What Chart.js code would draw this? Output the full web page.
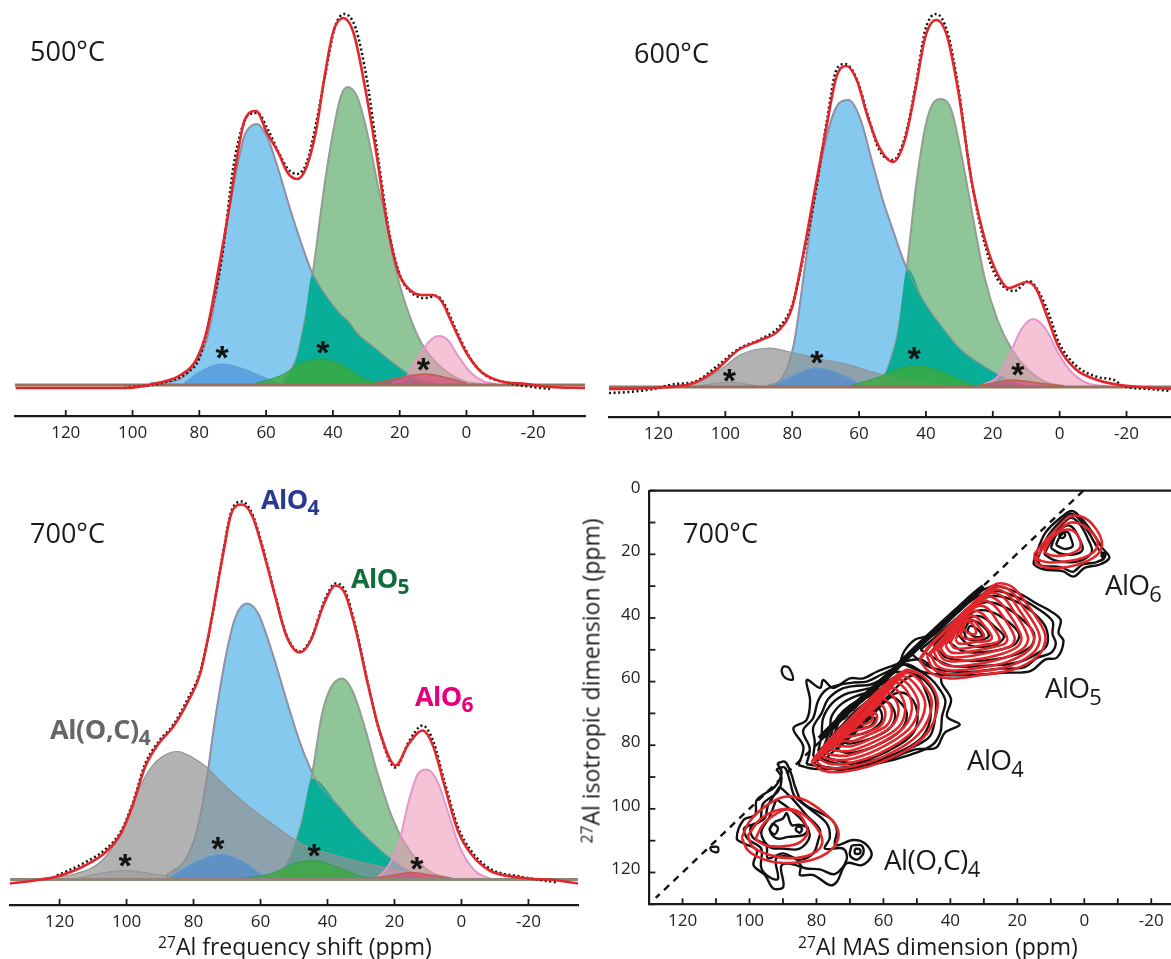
<!DOCTYPE html>
<html><head><meta charset="utf-8">
<script src="https://cdn.jsdelivr.net/npm/chart.js@4"></script>
<style>
html,body{margin:0;padding:0;background:#fff}
#wrap{position:relative;width:1171px;height:959px;overflow:hidden;background:#fff;font-family:"Open Sans",sans-serif;color:#1a1a1a}
canvas{position:absolute}
.t{position:absolute;white-space:nowrap;line-height:1}
.t sub{font-size:.78em;vertical-align:baseline;position:relative;top:.3em}
.t sup{font-size:.68em;vertical-align:baseline;position:relative;top:-.42em}
.b{font-weight:700}
</style></head><body><div id="wrap">
<canvas id="c500"></canvas><canvas id="c600"></canvas><canvas id="c700"></canvas><canvas id="c2d"></canvas>
<div class="t" style="left:30px;top:37px;font-size:27px">500°C</div>
<div class="t" style="left:634px;top:39px;font-size:27px">600°C</div>
<div class="t" style="left:30px;top:519px;font-size:27px">700°C</div>
<div class="t" style="left:683px;top:519px;font-size:27px">700°C</div>
<div class="t b" style="left:261px;top:485px;font-size:27px;color:#2b3990;letter-spacing:-.6px">AlO<sub>4</sub></div>
<div class="t b" style="left:351px;top:564px;font-size:27px;color:#0f6d3b;letter-spacing:-.6px">AlO<sub>5</sub></div>
<div class="t b" style="left:415px;top:682px;font-size:27px;color:#e6007e;letter-spacing:-.6px">AlO<sub>6</sub></div>
<div class="t b" style="left:50px;top:715px;font-size:27px;color:#666;letter-spacing:-.4px">Al(O,C)<sub>4</sub></div>
<div class="t" style="left:1105px;top:570px;font-size:28px;letter-spacing:-.8px">AlO<sub>6</sub></div>
<div class="t" style="left:1045px;top:673px;font-size:28px;letter-spacing:-.8px">AlO<sub>5</sub></div>
<div class="t" style="left:967px;top:745px;font-size:28px;letter-spacing:-.8px">AlO<sub>4</sub></div>
<div class="t" style="left:884px;top:845px;font-size:28px;letter-spacing:-.6px">Al(O,C)<sub>4</sub></div>
<div class="t" style="left:158px;top:935px;font-size:23px"><sup>27</sup>Al frequency shift (ppm)</div>
<div class="t" style="left:798px;top:935px;font-size:23px"><sup>27</sup>Al MAS dimension (ppm)</div>
<div class="t" style="left:591px;top:681px;font-size:23px;transform:translate(-50%,-50%) rotate(-90deg)"><sup>27</sup>Al isotropic dimension (ppm)</div>
</div>
<script>
// ---------- 1D spectra: [ppm, intensity] ----------
const red500=[[135,-3],[102.5,-3],[91.2,3],[85.6,10],[81,25],[77.7,55],[74.3,115],[71,178],[68.7,228],[66.4,265],[63,274],[59.7,252],[56.3,232],[53.5,212],[50.7,206],[47.9,218],[45,255],[42.8,302],[40,352],[36.9,367],[33.8,352],[30.4,298],[27,232],[23.6,158],[20.3,112],[16.9,95],[13.5,90],[10.1,90],[7.3,83],[4.5,63],[0,32],[-4.5,13],[-10,4],[-18,1],[-25,-2],[-35.5,-3]];
const exp500=[[102.5,-3],[91.2,2],[83.3,13],[80,27],[76.6,72],[73.2,128],[69.8,218],[67.6,253],[65.3,270],[62.5,272],[59.7,257],[56.3,233],[53.5,216],[50.7,211],[47.9,222],[45,262],[42.2,312],[39.4,358],[36.6,371],[33.2,357],[29.8,305],[26.5,228],[23.1,152],[19.7,108],[16.3,92],[12.4,87],[9,89],[6.8,82],[3.4,57],[-1.1,27],[-5.6,10],[-12.4,2],[-20,-2],[-25,-4]];
const blue500=[[94.6,2],[86.7,5],[80,28],[77.8,45],[74.8,95],[71.8,162],[67.8,232],[66.4,250],[62.8,261],[59.7,248],[56.3,215],[53,178],[49.5,142],[46.2,112],[42.8,93],[38.3,73],[34.9,62],[32.7,52],[27,36],[24.9,30],[19,15],[15,7],[10,2],[4.5,0]];
const green500=[[55.2,3],[50.8,28],[48.4,65],[46.2,108],[43,188],[41.7,218],[40,252],[37.7,288],[35.5,298],[32.7,288],[30.4,262],[28.2,228],[25.9,190],[24.9,178],[23.6,155],[20.3,104],[16.9,68],[13.5,42],[9,22],[4.5,10],[0,3],[-4.5,1]];
const teal500=[[55.2,0],[50.8,28],[48.4,65],[46.2,110],[42.8,93],[38.3,73],[34.9,62],[32.7,52],[27,36],[24.9,30],[19,15],[15,7],[10,2],[4.5,0]];
const pink500=[[22.5,2],[18,8],[14.6,27],[11.3,43],[8.4,49],[5.6,45],[2.3,28],[-1.1,13],[-5.6,3],[-9,1]];
const sBlue500=[[84.5,2],[80,13],[73.2,21],[67.6,17],[60.8,8],[56.3,2]];
const sGreen500=[[63,2],[55.2,10],[49.5,22],[43.9,26],[38.3,22],[31.5,8],[27,2]];
const sRed500=[[27,2],[20.3,7],[12.4,11],[6.8,8],[0,2]];
const stars500=[[73.2,32],[43,37],[12.9,20]];

const red600=[[134.8,-2],[121.6,-1],[109.4,4],[102.8,17],[96.1,37],[89.4,47],[83.9,57],[80,80],[76.7,133],[72.9,203],[69.6,263],[66.8,310],[63.8,321],[60.7,307],[57.4,270],[54,240],[49.8,225],[46.3,247],[43,300],[40.2,350],[36.9,367],[33.6,350],[30.2,293],[26.4,207],[22,143],[18.6,113],[15.3,99],[9.7,105],[7,98],[3.7,70],[0.3,40],[-4.7,18],[-11.3,7],[-18,2],[-33.3,-2]];
const exp600=[[134.8,-6],[129,-5],[121.6,-2],[115,3],[109.4,5],[102.8,20],[96.1,38],[89.4,48],[83.9,60],[80,82],[76.7,130],[72.9,197],[69.6,267],[66.8,317],[64.2,323],[60.7,308],[57.4,272],[54,237],[49.8,227],[46.3,250],[43,303],[40.2,357],[36.9,373],[33.6,355],[30.2,297],[26.4,207],[22,138],[18.6,108],[13.6,96],[9.2,106],[5.9,93],[3.1,72],[0.3,45],[-4.7,22],[-11.3,10],[-16.3,7],[-19,1],[-26.8,-2],[-33.3,-4]];
const blue600=[[87.3,1],[82.8,10],[79.5,43],[76.2,120],[72.9,197],[69.5,253],[66.2,283],[63.1,287],[59.6,268],[56.3,228],[53,188],[50,158],[46.3,123],[40.8,87],[35.2,60],[29.7,38],[24.1,24],[18.6,13],[13,4],[9.7,1]];
const green600=[[54,2],[51.3,20],[48.5,53],[45.7,120],[43,200],[40.2,260],[38,283],[35.4,288],[32.4,277],[29.1,227],[25.8,167],[22.5,110],[18.6,67],[14.2,37],[9.7,18],[4.2,5],[-1.3,1]];
const teal600=[[54,0],[51.3,20],[48.5,53],[45.5,118],[40.8,87],[35.2,60],[29.7,38],[24.1,24],[18.6,13],[13,4],[9.7,0]];
const pink600=[[23,2],[18.6,10],[15.3,30],[11.4,58],[7.9,68],[4.2,58],[0.3,33],[-3.5,15],[-9,3],[-14.6,1]];
const grey600=[[117,1],[108,5],[101.7,17],[95,33],[86.7,39],[80.6,35],[71.8,28],[62.9,22],[54,13],[46.3,7],[35.2,2],[29.7,1]];
const sGrey600=[[108,1],[98.9,5],[90.6,1]];
const sBlue600=[[86.2,1],[80.6,10],[72.9,19],[65,12],[58.5,1]];
const sGreen600=[[62.9,1],[54,10],[48.5,18],[43,21],[36.3,17],[29.7,7],[25.2,1]];
const sRed600=[[25.2,1],[19.7,4],[14.2,7],[6.4,4],[-1.3,1]];
const stars600=[[98.8,11],[72.6,29],[43.5,33],[12.5,17]];

const red700=[[134.8,-4],[127.5,-1],[120.8,3],[113,13],[106,28],[101.7,46],[98.3,73],[94.4,113],[90.4,136],[86,153],[81.5,179],[78,206],[74.7,259],[71.3,323],[68.5,368],[65.5,375],[62.4,363],[59,326],[55.6,283],[52.2,243],[48.3,227],[45,239],[41,276],[37.6,294],[34.8,286],[31.5,249],[28,196],[24.2,146],[19.7,114],[15.7,136],[11.6,149],[8.4,133],[5,93],[1.1,49],[-2.8,26],[-8.4,9],[-17.4,2],[-28.7,-1],[-34.8,-4]];
const exp700=[[120.8,4],[113,16],[106,31],[101.7,48],[98.3,75],[94.4,116],[90.4,138],[86,155],[81.5,182],[78,208],[74.7,258],[71.3,325],[68.5,370],[65.5,378],[62.4,365],[59,328],[55.6,284],[52.2,244],[48.3,228],[45,240],[41,278],[37.6,296],[34.8,289],[31.5,251],[28,197],[24.2,145],[19.7,112],[15.7,138],[11.6,154],[8.4,138],[5,97],[1.1,53],[-2.8,29],[-8.4,11],[-17.4,3],[-28.7,-3]];
const blue700=[[88.2,4],[82.6,19],[79.2,46],[76.4,93],[73.6,159],[70.2,226],[67.4,263],[64,276],[60.7,266],[56.7,229],[52.2,179],[47.8,133],[43.3,99],[36.5,73],[30.9,51],[25.3,33],[21.9,23],[14,6],[8.4,1]];
const green700=[[54.5,1],[51.1,23],[47.8,56],[44.4,109],[41.6,166],[38.8,193],[35.6,201],[32.6,189],[29.2,156],[25.3,109],[20.8,63],[17.4,39],[12.9,18],[8.4,6],[2.8,1]];
const teal700=[[54.5,0],[51.1,23],[47.8,56],[44.6,101],[36.5,73],[30.9,51],[25.3,33],[21.9,23],[14,6],[8.4,0]];
const pink700=[[25.3,1],[21.9,13],[18.5,39],[15.7,79],[12.9,106],[10.4,110],[7.3,99],[3.9,66],[0.6,33],[-3.9,9],[-8.4,1]];
const grey700=[[126,1],[115,6],[107.3,19],[101.7,46],[98.3,73],[95.5,96],[92.7,112],[89.3,123],[84.8,128],[80.3,122],[76,112],[72.5,100],[64.6,76],[56.7,56],[47.8,36],[36.5,23],[25.3,14],[14,6],[2.8,1]];
const sGrey700=[[115,1],[107.9,6],[100.6,9],[92.7,6],[84.8,1]];
const sBlue700=[[87,2],[80.3,16],[71.9,25],[65.7,19],[59,4],[55.6,1]];
const sGreen700=[[65.7,1],[56.7,6],[50,16],[43.8,19],[37.6,13],[29.8,3],[25.3,1]];
const sRed700=[[27.5,1],[20.8,4],[15.2,7],[8.4,4],[2.8,1]];
const stars700=[[100.4,19],[72.7,36],[44,29],[13.3,16]];

const ticks1D=[120,100,80,60,40,20,0,-20];
const ticksMAS=[130,120,110,100,90,80,70,60,50,40,30,20,10,0,-10,-20];
const ticksIso=[0,10,20,30,40,50,60,70,80,90,100,110,120,130];

// ---------- 2D map contours: [MAS ppm, isotropic ppm] ----------
const diagonal=[[0.3,0],[128,128]];
const redAlO4=[
[[81.5,85.3],[76,78.5],[71,73.2],[62,63.5],[56,58.2],[52.6,56.4],[47,59.5],[43.7,67],[48,77.5],[60,85],[71,88.2],[78,88],[81.5,85.3]],
[[80.5,84.8],[76,79.5],[71,74],[62,64.5],[53.5,57.4],[48.5,60.5],[45.5,67],[49.5,76.5],[60.5,83.8],[71,87],[77.5,86.9],[80.5,84.8]],
[[79.5,84.1],[70,74],[62,65.5],[54.5,58.4],[50,61.5],[47.5,67.5],[51,75.5],[61,82.5],[71,85.8],[76.5,85.7],[79.5,84.1]],
[[78.5,83.3],[70,74.8],[62,66.5],[55.5,59.4],[51.5,62.3],[49.5,68],[52.5,75],[61.5,81.2],[70.5,84.5],[76,84.4],[78.5,83.3]],
[[77.5,82.4],[69,74],[62,67.3],[56.5,60.4],[53,63],[51.5,68.5],[54,74.5],[62,80],[70.5,83.2],[75,83.1],[77.5,82.4]],
[[76,81.2],[68,73.2],[62,67.8],[57.5,62],[54.8,64.2],[53.5,69],[55.5,74.3],[62.5,78.8],[70,81.8],[74,81.7],[76,81.2]],
[[75,80.3],[67,72.3],[59,63.6],[56.5,65.5],[55.5,69.5],[57.5,74],[63,77.6],[69.5,80.3],[73,80.2],[75,80.3]],
[[73.5,79.1],[66.5,72],[60.5,65.5],[58.3,67],[57.5,70],[59,73.8],[64,76.5],[69,78.7],[72,78.7],[73.5,79.1]],
[[72,77.8],[66,72],[62,67.2],[60,68],[59.5,71],[61,74],[65,75.8],[68.5,77],[70.5,77.3],[72,77.8]],
[[70,76],[64,70],[62.3,70],[62,72],[63.2,73.8],[66,74.8],[68.5,75.3],[70,76]],
[[67,73],[65,70.5],[63.5,70.5],[63.3,72],[64.5,73],[66,73.5],[67,73]]];
const redAlO5=[
[[49.3,53.3],[46,48.6],[41,43.4],[36,38.3],[31,33.4],[27.5,30],[25.1,29.1],[21.2,30.5],[16.7,36.3],[12.7,42.6],[11.6,46.8],[13.9,52],[21.2,56.2],[31.3,58],[40.3,59],[46,57.2],[49.3,53.3]],
[[47,52],[33,35.9],[26,30.2],[22,31.5],[18,37],[14.3,43],[13.3,47],[15.5,51.2],[22,55],[31,56.8],[40,57.7],[45,56],[47,52]],
[[46,51.2],[33.5,36.5],[27,31.2],[23,32.5],[19.3,37.7],[16,43.3],[15,47],[17,50.5],[23,53.8],[31,55.6],[39.5,56.5],[44,55],[46,51.2]],
[[45,50.6],[34,37.2],[28,32.2],[24.2,33.5],[20.8,38.3],[17.7,43.6],[16.8,46.8],[18.5,49.8],[24,52.6],[31.5,54.4],[39,55.2],[43,54],[45,50.6]],
[[44,50],[34.5,37.8],[29,33.3],[25.5,34.8],[22.3,39],[19.5,44],[18.8,46.8],[20.3,49.3],[25,51.4],[32,53],[38.5,53.7],[42,53],[44,50]],
[[43,49.5],[35,38.5],[30,34.6],[27,36],[24,40],[21.5,44.3],[20.8,46.8],[22,48.8],[26,50.2],[32.5,51.7],[38,52.4],[41,52],[43,49.5]],
[[41.5,48.6],[35.5,39.3],[31.5,36.2],[28.7,37.2],[26,41],[23.7,44.8],[23,46.8],[24,48.2],[27.5,49.2],[33,50.4],[37.5,51],[40,50.7],[41.5,48.6]],
[[40,47.7],[36,40.2],[33,37.8],[30.3,38.8],[28,41.8],[25.9,45],[25.3,46.8],[26.3,47.8],[29,48.3],[33.5,49.2],[37,49.7],[39,49.3],[40,47.7]],
[[38.5,46.8],[36,41.5],[34,39.3],[32,39.9],[30,42.3],[28,45],[27.7,46.5],[29,47.3],[32,47.5],[35,48],[37.5,48],[38.5,46.8]],
[[37,45.5],[35.5,41.5],[34,40.5],[32.8,41],[31.2,43.3],[30,45.5],[30.5,46.3],[33,46.6],[35.5,46.5],[37,45.5]],
[[36.3,42.5],[35,41],[33.5,41.8],[32.5,43.5],[32.5,45],[34,45],[35.7,44],[36.3,42.5]]];
const redRidgeA=[[81,84.8],[76,78.3],[71,73],[66,67.7],[61,62.6],[56,58.2],[52.6,56.2]];
const redRidgeB=[[49,52.8],[46,48.6],[41,43.4],[36,38.3],[31,33.4],[27.3,30]];
const redAlO6=[
[[15,20],[11,15],[7,10.5],[4,8],[0,8.5],[-3.5,12],[-5.3,16.5],[-4,20],[0,22.5],[5,24],[10,24.3],[14,23],[15,20]],
[[14,20.5],[10.5,15.5],[6.5,11.5],[4,10],[0.5,10.8],[-3,14],[-4,17],[-2.5,19.5],[1,21.3],[6,22.3],[11,22.5],[14,21.5],[14,20.5]],
[[12,19],[9.5,14.5],[6.5,12.5],[3.5,12.5],[1.5,15],[1.3,18],[4,19.8],[8,20.5],[11,20],[12,19]]];
const redAlOC=[
[[102.3,109],[100,104],[95,99],[89.5,96.2],[84,97],[78,101],[74,105.5],[73.7,110],[77,114],[83,116.5],[90,117],[96,115.8],[100.5,113],[102.3,109]],
[[100.5,108.5],[97,103.5],[92,100.5],[87,100.2],[83,102.5],[79,107.5],[78.5,111.5],[82,114.5],[88,115.5],[94,114.5],[99,112],[100.5,108.5]],
[[98.3,109.7],[96,105],[92,101.5],[88.5,100.2],[85,102],[83,105.5],[82.8,108],[85.5,110.8],[90,111.8],[95,111.5],[98.3,109.7]]];
const blackAlO4=[
[[85.4,86.3],[83.9,80.5],[86.9,74.7],[83,72.1],[81.9,66],[82.9,59.5],[78.9,62],[78,59.5],[75,62],[70,59],[66,59],[62,56.9],[58,55.3],[54,53.8],[49,53],[46,55],[43,58],[42.6,60.5],[39.8,65.6],[41,71],[37.2,73.5],[41.7,76.1],[44.3,80.8],[50.5,81.3],[60,85],[72,87],[80,87.5],[85.4,86.3]],
[[83,86],[82,81],[84,75.5],[81,71.5],[79.5,66],[77,62.5],[73,61],[69,60.3],[65,60],[61,58],[57,56],[53,54.5],[50,56],[46,59],[43.5,62],[41.5,66],[42.5,71],[43,76],[45.5,80],[52,83],[62,85.8],[72,87.3],[83,86]],
[[81,83.5],[80.5,79],[81,74.5],[78.5,70],[76.5,65.5],[72.5,62.3],[68,61.3],[64,61],[60,59],[56,57],[50,58],[46.5,61],[44.5,65],[44.5,71],[46,77],[50,80],[60,84],[72,86],[81,83.5]],
[[79.5,82],[78.5,77],[78,71.5],[75.5,67],[71.5,64],[67,62.8],[62,61.5],[59,60],[55,58],[58,62],[65,68],[72,75],[79.5,82]],
[[78,81],[76,75],[75.5,71],[72.5,67],[68,64.5],[63,63],[59,61.5],[62,64.5],[68,70],[74,75.5],[78,81]],
[[76.5,79.5],[75,74.5],[73.5,71],[70,67.5],[65.5,65],[61,63],[64,65.5],[70,71],[76.5,79.5]],
[[75,78],[73.5,73],[71.5,69],[67,66],[62,64],[65,67],[70,72],[75,78]],
[[77,84],[67,74],[57,64],[53,64],[50,69],[51,76],[59,82],[69,85.5],[77,84]],
[[74,81.5],[65,72.5],[58,65],[55.5,66],[53,70],[55,75.5],[62,80],[70,82.5],[74,81.5]],
[[72,79],[64,70],[60,66.5],[58,67],[56.5,71],[58.5,75],[64,78],[70,79.5],[72,79]],
[[70,77],[64.5,71],[62,68],[60.5,70],[61,73],[65,76],[70,77]],
[[68.5,75],[65,72],[62.5,71.5],[64,74],[68.5,75]],
[[81,86],[72,87.7],[62,85],[50,79],[46,72],[47,64],[51,58],[60,66],[70,76],[81,86]]];
const ridgeBand=[[79,78],[76,74.8],[71.8,70.6],[66,65],[62.8,62],[57,56.5],[52.7,52],[47,46.3],[42.6,42],[38,37.6],[33.6,33.3],[30,30.2]];
const blackAlO5=[
[[55,54],[53.8,50.5],[50.5,46.8],[47,45.7],[44.8,43.6],[38,37.3],[32.4,32.6],[27,30],[20,32],[13.9,35.7],[11,37.3],[7.1,40.5],[7.7,44.7],[6.2,47.3],[8.2,52.5],[11.6,53],[16.1,56.7],[24,57.2],[32,57.8],[40,58],[48,57],[55,54]],
[[52,51],[48,47.5],[44,44.5],[38,38.5],[33,34],[27,31.5],[20,33.5],[14,37],[9.5,41],[9.5,45],[8.5,48],[10,51],[14,52.5],[18,55.5],[26,56],[36,57],[46,55.5],[52,51]],
[[49,50],[45,46.5],[38,40],[33,35.5],[27,33],[20,35],[14.5,39],[11.5,43],[11,48],[13,50.5],[20,54],[30,55],[40,55],[49,50]],
[[45,48.5],[40,43],[34,37],[29,35],[23,37],[18,41],[15,45],[16,49],[22,52],[32,53.5],[41,52.5],[45,48.5]],
[[41,47],[37,42],[33,38],[28,38],[23,41],[19.5,45],[21,48.5],[28,50.5],[36,50.5],[41,47]],
[[38,45],[35,40.5],[31,39.5],[26.5,43],[24,46],[27,48.5],[34,48.7],[38,45]],
[[36,44],[34,41],[31,42],[28.5,45.5],[31,47],[35,46.5],[36,44]],
[[35,44],[34,42.5],[31.5,44],[30.5,45.8],[33,45.8],[35,44]]];
const blackAlO6=[
[[15,21.6],[11.6,13.2],[6.5,8],[3.7,6.4],[1.5,8],[-2.5,13.2],[-5.3,17.9],[-7.5,21],[-4.7,23.2],[-0.2,24.2],[3.2,27],[6.5,25.3],[12.2,24.7],[15,23.2],[15,21.6]],
[[14,21.5],[11,14.5],[7,9.5],[4,7.2],[1.5,9],[-1.5,13.5],[-4,18],[-6,21],[-3.5,22.5],[0.5,23.2],[3.5,25.5],[7,24],[13,23.5],[14,21.5]],
[[12,20],[9.5,15],[6.5,10.5],[3.8,8.5],[1,11],[-1,15],[-2.3,19],[0,21.5],[4,22.5],[9,21.8],[12,20]],
[[10,18],[8.5,14],[5.5,11],[3.5,11.5],[1.5,15],[0.5,18.5],[3,20],[7,19.8],[10,18]],
[[8.5,17],[7,14],[5,13],[4,15],[3.5,17.5],[6,18.3],[8.5,17]],
[[7.3,13.3],[6.4,13],[5.7,14],[6.5,14.9],[7.4,14.3],[7.3,13.3]],
[[-5.3,19.5],[-6.3,19.8],[-6,21],[-5.2,20.6],[-5.3,19.5]]];
const blackAlOC=[
[[91.7,85.7],[89.4,85.2],[87.4,89.4],[86.4,93],[83.9,98.3],[75.9,103],[73.9,106.7],[74.4,111.4],[69,109.8],[65.5,110.9],[63.5,114.5],[66.5,117.7],[71,117.1],[73.9,122.9],[75.9,124],[80.9,120.8],[84.9,120.8],[84.9,118.2],[90.4,117.7],[89.9,124.5],[92.9,125],[95.4,120.8],[98.8,117.7],[97.8,113],[101.8,110.8],[103.8,109.3],[101.8,103.5],[98.3,101.9],[97.8,97.2],[92.4,93],[90.4,88.8],[91.7,85.7]],
[[92,87.5],[89.5,87],[88,91],[86.5,96],[82,100],[77,104.5],[76,109],[77.5,112.5],[72,112.5],[71,116],[74.5,120.5],[79,119],[84,118.5],[86.5,115.5],[92,115.5],[91.5,122],[94,121.5],[96.5,118.5],[96.5,112.5],[100.5,109.5],[101.5,106],[97,104],[96,98.5],[91.5,94.5],[90.5,90],[92,87.5]],
[[91,93],[87,97],[83,102],[79,106.5],[79.5,110],[81,114],[85,116],[90,114],[94.5,115.5],[95,111.5],[99,109],[99.5,105.5],[95.5,103],[94.5,99],[91,93]],
[[92,97],[88,100],[84,104],[82,108.5],[85,112.5],[90,112.5],[94,112],[96.5,107.5],[94,102.5],[92,97]],
[[92.4,104],[93.9,106.7],[91.9,109.3],[88.4,108.8],[83.9,108.2],[82.5,106],[85.4,105],[87.4,105.1],[88.9,101.4],[90,103],[92.4,104]],
[[85.5,105.3],[84.3,106.2],[85,107.5],[86.2,106.5],[85.5,105.3]],
[[93,104.5],[94,106.5],[92.5,108],[91.5,106],[93,104.5]],
[[69.5,111.5],[66.5,111.5],[66,114],[68,116],[70,114.5],[69.5,111.5]],
[[68.5,112.5],[67,112.8],[67,114],[68.5,114],[68.5,112.5]]];
const blobA=[[89.9,55.1],[88.2,55.7],[87,59.3],[89.3,58.8],[90.4,56.7],[89.9,55.1]];
const blobB=[[111.8,112],[109.5,112],[109.5,113.6],[111.3,113.2],[111.8,112]];

// ---------- styles ----------
const INK='#1a1a1a',RED='#e2262b';
const pts=a=>a.map(p=>({x:p[0],y:p[1]}));
const area=(d,fill,line,w)=>({data:pts(d),backgroundColor:fill,borderColor:line,borderWidth:w===undefined?2:w,fill:{value:0},pointRadius:0,cubicInterpolationMode:'monotone'});
const curve=(d,line,w,dash)=>({data:pts(d),borderColor:line,borderWidth:w,borderDash:dash||[],fill:false,pointRadius:0,cubicInterpolationMode:'monotone'});
const C={blue:'#86c9ee',blueL:'#8d8fc8',green:'#8fc598',greenL:'#929e90',teal:'#08ae97',grey:'rgba(146,146,146,.7)',greyL:'#8f9394',pink:'rgba(238,152,184,.58)',pinkL:'#e595c9',sBlue:'rgba(60,130,215,.55)',sBlueL:'#5a9fd4',sGreen:'rgba(60,170,60,.8)',sGreenL:'#2f9e4f',sRed:'rgba(215,60,110,.6)',sRedL:'#c0604f'};

const inwardTicks={id:'inwardTicks',afterDatasetsDraw(ch,_a,o){
  const c=ch.ctx,s=ch.scales.x,a=ch.chartArea;c.save();c.strokeStyle=INK;c.lineWidth=1.8;
  s.ticks.forEach(t=>{const x=s.getPixelForValue(t.value);c.beginPath();c.moveTo(x,a.bottom);c.lineTo(x,a.bottom-6);c.stroke();});
  if(ch.scales.y.options.display){const y=ch.scales.y;y.ticks.forEach(t=>{const p=y.getPixelForValue(t.value);c.beginPath();c.moveTo(a.left,p);c.lineTo(a.left+6,p);c.stroke();});
    c.lineWidth=2.2;c.beginPath();c.moveTo(a.left,a.top);c.lineTo(a.right,a.top);c.stroke();}
  c.restore();}};
const starMarks={id:'starMarks',afterDatasetsDraw(ch,_a,o){
  if(!o.points)return;const c=ch.ctx;c.save();c.fillStyle='#111';c.font='bold 34px "Liberation Sans"';c.textAlign='center';c.textBaseline='alphabetic';
  o.points.forEach(p=>c.fillText('*',ch.scales.x.getPixelForValue(p[0]),ch.scales.y.getPixelForValue(p[1])+16));c.restore();}};

function place(id,l,t,w,h){const e=document.getElementById(id);e.width=w;e.height=h;e.style.left=l+'px';e.style.top=t+'px';e.style.width=w+'px';e.style.height=h+'px';return e;}

function spectrum(id,box,xr,yr,pad,axisH,sets,stars){
  const ds=sets.map((d,i)=>Object.assign(d,{order:-i}));
  new Chart(place(id,...box),{type:'line',data:{datasets:ds},plugins:[inwardTicks,starMarks],options:{
    responsive:false,animation:false,devicePixelRatio:1,layout:{padding:pad},
    plugins:{legend:{display:false},tooltip:{enabled:false},starMarks:{points:stars}},
    scales:{
      x:{type:'linear',reverse:true,min:xr[0],max:xr[1],afterFit:s=>{s.height=axisH;},afterBuildTicks:s=>{s.ticks=ticks1D.map(v=>({value:v}));},
        grid:{display:false,drawTicks:false},border:{display:true,color:INK,width:2.2},
        ticks:{padding:7,maxRotation:0,autoSkip:false,color:'#222',font:{family:'"Open Sans"',size:17}}},
      y:{type:'linear',display:false,min:yr[0],max:yr[1]}}}});
}

const base=(a,b)=>[[a,0],[b,0]];
const DOT=[2,2.6];
spectrum('c500',[0,0,590,450],[-35.5,135.2],[-31,385],{left:15,right:5,top:0,bottom:0},34,[
  area(blue500,C.blue,C.blueL),area(green500,C.green,C.greenL),area(teal500,C.teal,'rgba(0,0,0,0)',0),curve(blue500,C.greyL,1.2),
  area(pink500,C.pink,C.pinkL),area(sBlue500,C.sBlue,C.sBlueL,1),area(sGreen500,C.sGreen,C.sGreenL,1),area(sRed500,C.sRed,C.sRedL,1.5),
  curve(base(135.2,-35.5),'#97705f',3),curve(exp500,'#111',2.5,DOT),curve(red500,RED,2.6)],stars500);

spectrum('c600',[590,0,581,450],[-33.3,134.8],[-30,387],{left:19,right:0,top:0,bottom:0},33,[
  area(blue600,C.blue,C.blueL),area(green600,C.green,C.greenL),area(teal600,C.teal,'rgba(0,0,0,0)',0),curve(blue600,C.greyL,1.2),
  area(grey600,C.grey,C.greyL,1.2),area(pink600,C.pink,C.pinkL),area(sGrey600,'rgba(120,120,120,.25)',C.greyL,1),area(sBlue600,C.sBlue,C.sBlueL,1),area(sGreen600,C.sGreen,C.sGreenL,1),area(sRed600,C.sRed,C.sRedL,1.5),
  curve(base(134.8,-33.3),'#97705f',3),curve(exp600,'#111',2.5,DOT),curve(red600,RED,2.6)],stars600);

spectrum('c700',[0,470,590,489],[-34.8,134.8],[-25.5,409.5],{left:10,right:12,top:0,bottom:0},54,[
  area(blue700,C.blue,C.blueL),area(green700,C.green,C.greenL),area(teal700,C.teal,'rgba(0,0,0,0)',0),curve(blue700,C.greyL,1.2),
  area(grey700,C.grey,C.greyL,1.2),area(pink700,C.pink,C.pinkL),area(sGrey700,'rgba(120,120,120,.25)',C.greyL,1),area(sBlue700,C.sBlue,C.sBlueL,1),area(sGreen700,C.sGreen,C.sGreenL,1),area(sRed700,C.sRed,C.sRedL,1.5),
  curve(base(134.8,-34.8),'#8f8578',3),curve(exp700,'#111',2.5,DOT),curve(red700,RED,2.6)],stars700);

// ---------- 2D panel ----------
const loop=(d,col,w)=>({data:pts(d),borderColor:col,borderWidth:w,fill:false,pointRadius:0,tension:.35});
const sets2d=[Object.assign(loop(diagonal,'#111',2.4),{tension:0,borderDash:[7,6]})];
[blobA,blobB].forEach(d=>sets2d.push(loop(d,'#111',2.2)));
[blackAlOC,blackAlO4,blackAlO5,blackAlO6].forEach(g=>g.forEach(d=>sets2d.push(loop(d,'#111',2.4))));
sets2d.push(loop(ridgeBand,'#111',6));
[redAlOC,redAlO4,redAlO5,redAlO6].forEach(g=>g.forEach(d=>sets2d.push(loop(d,RED,2.6))));
[redRidgeA,redRidgeB].forEach(d=>sets2d.push(loop(d,RED,3.5)));
sets2d.forEach((d,i)=>{d.order=-i;});
new Chart(place('c2d',590,470,581,489),{type:'line',data:{datasets:sets2d},plugins:[inwardTicks],options:{
  responsive:false,animation:false,devicePixelRatio:1,layout:{padding:{top:20.7,left:0,right:0,bottom:0}},
  plugins:{legend:{display:false},tooltip:{enabled:false}},
  scales:{
    x:{type:'linear',reverse:true,min:-25.9,max:129.9,afterFit:s=>{s.height=54.7;},afterBuildTicks:s=>{s.ticks=ticksMAS.map(v=>({value:v}));},
      grid:{display:false,drawTicks:false},border:{display:true,color:INK,width:2.2},
      ticks:{padding:7,maxRotation:0,autoSkip:false,color:'#222',font:{family:'"Open Sans"',size:17},callback:v=>(v%20===0?String(v):'')}},
    y:{type:'linear',reverse:true,min:0,max:130,afterFit:s=>{s.width=59.4;},afterBuildTicks:s=>{s.ticks=ticksIso.map(v=>({value:v}));},
      grid:{display:false,drawTicks:false},border:{display:true,color:INK,width:2.2},
      ticks:{padding:9,labelOffset:-3,autoSkip:false,color:'#222',font:{family:'"Open Sans"',size:17},callback:v=>(v%20===0?String(v):'')}}}}});
</script></body></html>
